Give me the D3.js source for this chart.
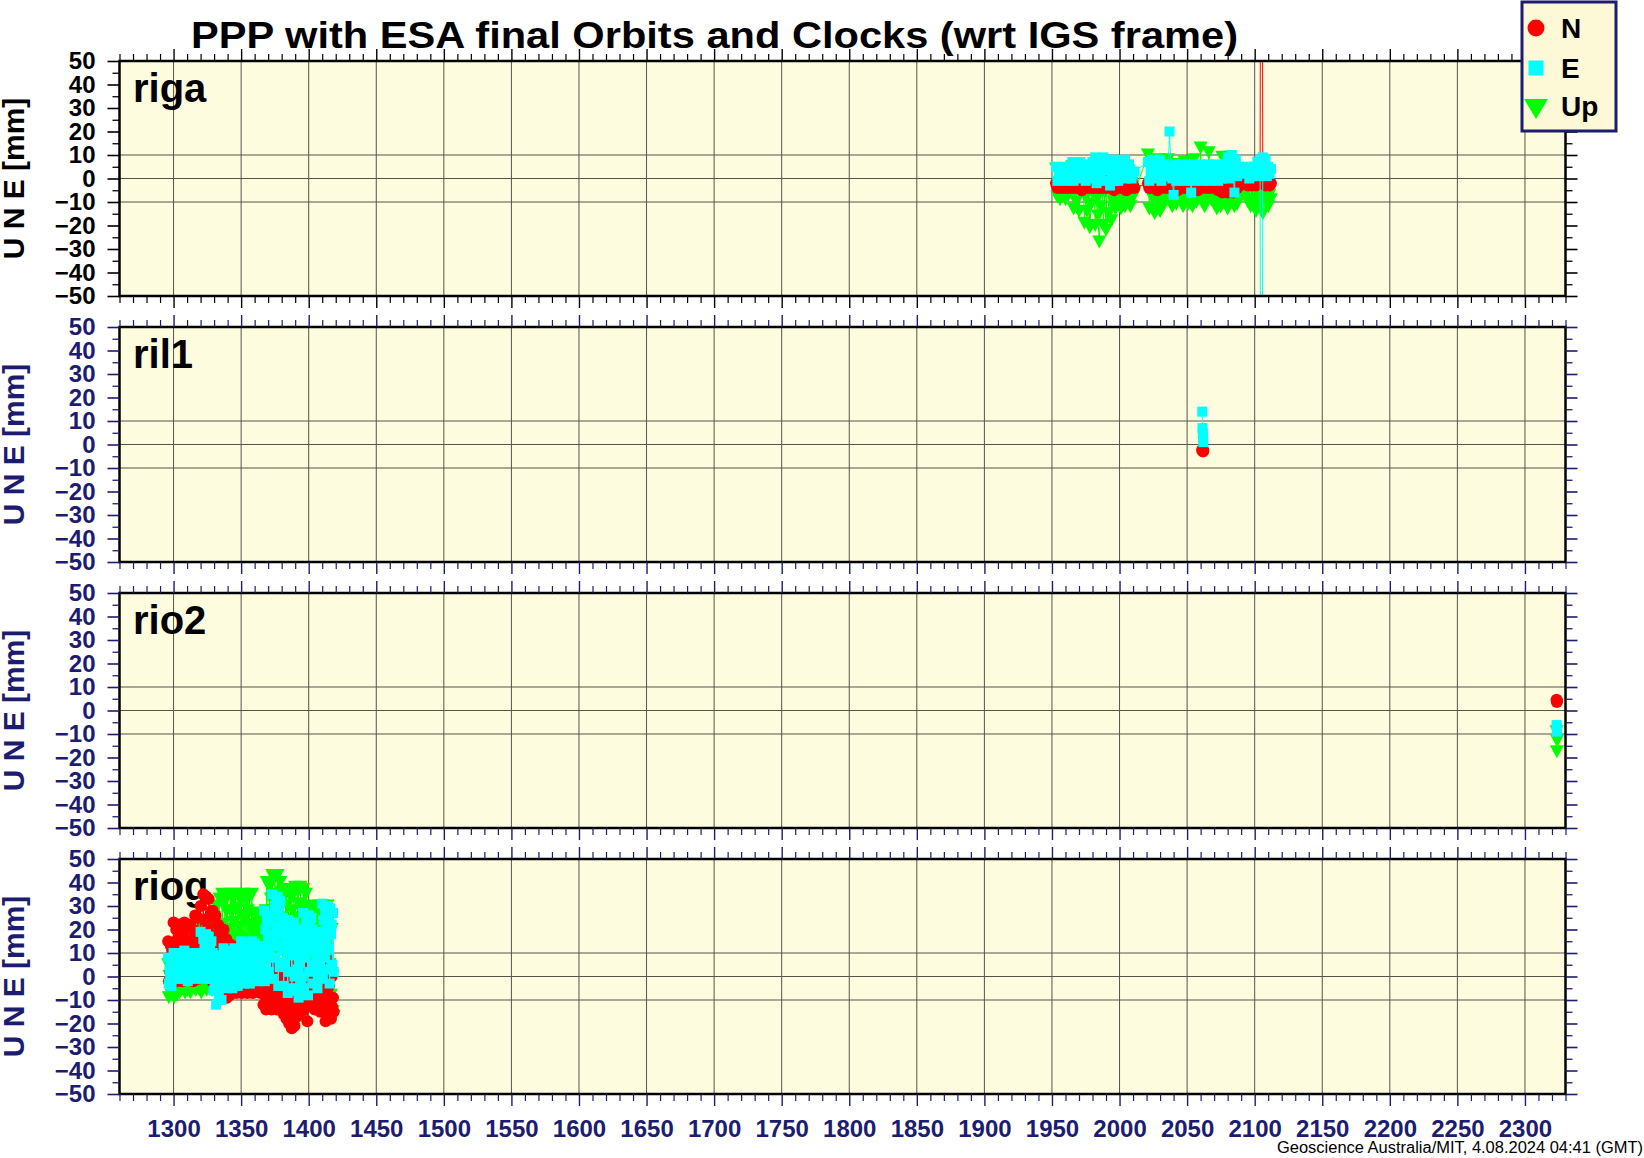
<!DOCTYPE html>
<html>
<head>
<meta charset="utf-8">
<script src="https://cdn.jsdelivr.net/npm/d3@7"></script>
<style>
  body { margin: 0; background: #fff; }
  svg { display: block; }
</style>
</head>
<body>
<div id="chart"></div>
<script>
// ---- data ----
const chartTitle = 'PPP with ESA final Orbits and Clocks (wrt IGS frame)';
const footerText = 'Geoscience Australia/MIT, 4.08.2024 04:41 (GMT)';
const yTitle = 'U N E [mm]';
const stations = ['riga', 'ril1', 'rio2', 'riog'];
const weekTicks = [1300, 1350, 1400, 1450, 1500, 1550, 1600, 1650, 1700, 1750, 1800,
  1850, 1900, 1950, 2000, 2050, 2100, 2150, 2200, 2250, 2300];
const mmTicks = [-50, -40, -30, -20, -10, 0, 10, 20, 30, 40, 50];
const gridMm = [-10, 0, 10];
const legendLabels = ['N', 'E', 'Up'];

// riga (GPS week, mm)
const rigaWeeks = [
  1953, 1954, 1955, 1956, 1957, 1958, 1959, 1960, 1961, 1962, 1963, 1964,
  1965, 1966, 1967, 1968, 1969, 1970, 1971, 1972, 1973, 1974, 1975, 1976, 1977, 1978, 1979, 1980, 1981,
  1982, 1983, 1984, 1985, 1986, 1987, 1988, 1989, 1990, 1991,
  1992, 1993, 1994, 1995, 1996, 1997,
  1998, 1999, 2000, 2001, 2002, 2003, 2004, 2005, 2006, 2007, 2008, 2009, 2010, 2011,
  2021, 2022, 2023, 2024, 2025, 2026, 2027, 2028, 2029, 2030, 2031, 2032, 2033,
  2034, 2035, 2036, 2037, 2038, 2039, 2040,
  2041, 2042, 2043, 2044, 2045, 2046, 2047, 2048, 2049, 2050, 2051, 2052,
  2053,
  2054, 2055, 2056, 2057, 2058, 2059, 2060, 2061, 2062, 2063, 2064, 2065, 2066,
  2067, 2068, 2069, 2070, 2071, 2072, 2073, 2074, 2075, 2076, 2077, 2078, 2079,
  2080, 2081, 2082, 2083, 2084, 2085, 2086, 2087, 2088, 2089,
  2094, 2095, 2096, 2097, 2098, 2099, 2100, 2101, 2102, 2103, 2104,
  2105, 2106, 2107, 2108, 2109, 2110, 2111, 2112];
const rigaN = [
  -2, -4, -1, -3, -4, -2, -3, -4, -1, -2, -4, -3, -2, -4, -1, -3, -4, -2,
  -3, -5, -1, -2, -4, -3, -2, -4, -1, -3, -4, -2, -3, -4, -1, -2, -4, -3,
  -2, -4, -1, -3, -4, -2, -1, -5, -1, -2, -4, -3, -1, -4, 0, -3, -5, -2,
  -1, -4, -1, -3, -4,
  -2, -4, -1, -3, -4, -2, -3, -5, -1, -2, -4, -3, -2, -4, -1, -3, -4, -2,
  -3, -4, -1, -2, -5, -3, -2, -4, -1, -3, -4, -2, -3, -4, -1, -2, -4, -3,
  -2, -5, -1, -3, -4, -2, -3, -4, -1, -2, -4, -3, -2, -4, -1, -3, -5, -2,
  -1, -6, -2, -5, -3, -6, -2, -5, -1, -6, -3, -2, -4, -2, -3,
  -2, -3, -1, -2, -3, -1, -2, -3, -1, -2, 0,
  300, 1, -2, -3, -1, -2, -3, -2];
const rigaE = [
  5, -1, 2, 4, 0, 3, 5, -1, 2, 4, 0, 3,
  7, -1, 3, 6, 1, 4, 7, 0, 3, 5, -1, 4, 6, 1, 3, 7, 0,
  9, -2, 3, 7, 0, 5, 9, -1, 4, 8,
  5, -3, 1, 4, -1, 2,
  8, -1, 3, 6, 1, 4, 8, 0, 3, 6, 4, 0, 2, 3,
  7, -1, 3, 8, 1, 5, 7, 0, 4, 8, -1, 3, 6,
  5, 1, 3, 20, 4, 0, -7,
  6, -1, 3, 5, 0, 4, 6, -1, 2, 5, 0, 3,
  -6,
  6, -1, 3, 5, 0, 4, 6, -1, 2, 5, 0, 3, 6,
  -1, 3, 5, 0, 4, 6, -1, 2, 5, 0, 3, 6, 1,
  9, 0, 4, 10, 2, -6, 8, 1, 5, 3,
  2, 5, 0, 4, 3, 1, 5, 2, 7, 1, 8,
  -300, 9, 3, 8, 1, 5, 2, 4];
const rigaU = [
  4, -8, -2, -9, 1, -5, 3, -9, -3, -7, 2, -6,
  5, -13, -4, -10, 2, -14, -6, -1,
  3, -19, -8, -14, 0, -21, -11, -5, 2, -20, -9, -16,
  -27, -12, 4, -20, -6, -22,
  6, -15, -4, -18, 0, -10, -13,
  4, -11, -3, -13, 0, -7, -12, 2, -9, -4, -12, 1, -8, -6,
  10, -13, -4, -8, 5, -15, -2, -10, 8, -14, -6, 3, -11, -1, -9,
  8, -10, -3, -12, 2, -7, -11, 6, -5, -9, 0, -12,
  7, -8, -2, -11, 4, -6, -12, 8, -4, -10, 1, -8,
  13, -10, -2, -12, 5, -7, 11, -4, -9,
  3, -11, -5, -13, 0, -8, -12, 9, -6, -10, 2, -13, -4, 9, -9, -1, -12, -6, -11, 2, -8,
  -6, -10, 2, -12, -4, -9, -1, -14, -6, -11, -3,
  -8, -15, -5, -10, -2, -12, -7, -9];

// ril1
const ril1Weeks = [2061.2, 2061.4, 2061.6, 2061.8, 2062.0];
const ril1N = [-2.5, -2, -2.5, -3, -2.5];
const ril1E = [14, 7, 5, 3, 1];
const ril1U = [];

// rio2
const rio2Weeks = [2323.4, 2323.6, 2323.8];
const rio2N = [4.6, 3.6, 4.0];
const rio2E = [-6.2, -9, -7.5];
const rio2U = [-9, -17.5, -13];

// riog
const riogWeeks = [
  1296, 1296.5, 1297, 1297.5, 1298, 1298.5, 1299, 1299.5, 1300, 1300.5, 1301, 1301.5, 1302, 1302.5, 1303, 1303.5, 1304, 1304.5, 1305, 1305.5,
  1306, 1306.5, 1307, 1307.5, 1308, 1308.5, 1309, 1309.5, 1310, 1310.5, 1311, 1311.5, 1312, 1312.5, 1313, 1313.5, 1314, 1314.5, 1315, 1315.5,
  1316, 1316.5, 1317, 1317.5, 1318, 1318.5, 1319, 1319.5, 1320, 1320.5, 1321, 1321.5, 1322, 1322.5, 1323, 1323.5, 1324, 1324.5, 1325, 1325.5,
  1326, 1326.5, 1327, 1327.5, 1328, 1328.5, 1329, 1329.5, 1330, 1330.5, 1331, 1331.5, 1332, 1332.5, 1333, 1333.5, 1334, 1334.5, 1335, 1335.5,
  1336, 1336.5, 1337, 1337.5, 1338, 1338.5, 1339, 1339.5, 1340, 1340.5, 1341, 1341.5, 1342, 1342.5, 1343, 1343.5, 1344, 1344.5, 1345, 1345.5,
  1346, 1346.5, 1347, 1347.5, 1348, 1348.5, 1349, 1349.5, 1350, 1350.5, 1351, 1351.5, 1352, 1352.5, 1353, 1353.5, 1354, 1354.5, 1355, 1355.5,
  1356, 1356.5, 1357, 1357.5, 1358, 1358.5, 1359, 1359.5, 1360, 1360.5, 1361, 1361.5, 1362, 1362.5, 1363, 1363.5, 1364, 1364.5, 1365, 1365.5,
  1366, 1366.5, 1367, 1367.5, 1368, 1368.5, 1369, 1369.5, 1370, 1370.5, 1371, 1371.5, 1372, 1372.5, 1373, 1373.5, 1374, 1374.5, 1375, 1375.5,
  1376, 1376.5, 1377, 1377.5, 1378, 1378.5, 1379, 1379.5, 1380, 1380.5, 1381, 1381.5, 1382, 1382.5, 1383, 1383.5, 1384, 1384.5, 1385, 1385.5,
  1386, 1386.5, 1387, 1387.5, 1388, 1388.5, 1389, 1389.5, 1390, 1390.5, 1391, 1391.5, 1392, 1392.5, 1393, 1393.5, 1394, 1394.5, 1395, 1395.5,
  1396, 1396.5, 1397, 1397.5, 1398, 1398.5, 1399, 1399.5, 1400, 1400.5, 1401, 1401.5, 1402, 1402.5, 1403, 1403.5, 1404, 1404.5, 1405, 1405.5,
  1406, 1406.5, 1407, 1407.5, 1408, 1408.5, 1409, 1409.5, 1410, 1410.5, 1411, 1411.5, 1412, 1412.5, 1413, 1413.5, 1414, 1414.5, 1415, 1415.5,
  1416, 1416.5, 1417, 1417.5, 1418, 1418.5];
const riogN = [
  15, -2, 8, 2, 13, -3, 11, 5,
  23, 0, 12, 4, 20, -2, 16, 8, 22, -1, 13, 3, 19, -2, 17, 7,
  23, 1, 11, 5, 21, -1, 15, 9, 22, 0, 12, 4, 20, -2, 16, 8,
  26, 1, 14, 5, 25, -1, 18, 10,
  30, 2, 16, 6, 35, 0, 24, 10, 34, 3, 20, 8, 33, 1, 26, 12, 28, 5,
  28, -3, 12, 2, 26, -5, 18, 6, 22, -4, 10, 0, 20, -5, 14, 4,
  20, -6, 6, -2, 16, -9, 10, 2, 14, -8, 4, -3, 13, 0,
  13, -5, 4, -2, 12, -7, 8, 0, 5, -6, 1, -3, 4, -7, 2, -1,
  5, -5, 0, -4, 3, -7, 1, -2, 4, -6, 2, -3, 5, -7, 0, -1,
  4, -5, 1, -4, 5, -6, 2, -2, 3, -7, 0, 4,
  5, -12, -3, -8, 3, -14, -1, -6, 4, -13, -4, -9, 2, -14, 0,
  -7, 5, -11, -2, -10, 3, -14, -5, -8, 4, -12, -1, -6, 2, -13,
  5, -16, -5, -12, 3, -18, -2, -9, 4, -20, -7, -14, 2, -22, -4, -11, 5, -21, -8, -15, 3, -17,
  5, -13, -3, -8, 4, -15, -1, -10, 3, -14, -5, -9, 2, -12, -19, -6,
  4, -10, -2, -7, 3, -12, 0, -5, 4, -14, -3, -8, 2, -13, -1, -6, 3, -15, -4, -9,
  8, -15, -2, -10, 6, -19, 2, -7, 7, -17, -4, -12, 5, -18, 0, -13, -9, -15];
const riogE = [
  8, -3, 3, -1, 6, -4, 4, 1,
  10, 0, 5, 2, 8, -1, 7, 3, 9, 1, 6, 2, 10, -1, 6, 4,
  11, 0, 5, 3, 8, -2, 7, 2, 10, 1, 4, 2, 9, 0, 6, 3,
  10, -1, 5, 3, 8, 0, 7, 4,
  19, 1, 10, 4, 16, -1, 13, 7, 18, 0, 11, 5, 17, -1, 12, 6, 15, 3,
  10, -6, 2, -3, 8, -12, 5, -1, 9, -8, 3, -4, 7, -10, 6, 0,
  12, -3, 4, -1, 10, -5, 7, 2, 11, -4, 5, 0, 9, -5, 8, 1, 12, -3, 3, -1, 10, -4, 6, 2, 11, 0,
  15, -1, 7, 2, 12, -3, 10, 4, 14, -2, 8, 1, 13, -3, 9, 5, 15, 0, 6, 3,
  14, 0, 6, 2, 12, -2, 9, 4, 13, -1, 7, 1, 11, 5,
  28, -2, 20, 6, 24, 12, 16, 2, 26, 9, 18, 14,
  35, -1, 26, 8, 30, 17, 21, 13, 34, -4, 28, 4, 32, 19, 24, 11,
  25, -4, 18, 6, 22, 12, 15, -7, 24, 2, 20, 9, 21, -5, 16, 13, 23, 0,
  20, -6, 14, 3, 17, -9, 10, 6, 19, -2, 12, 0,
  27, -5, 20, 8, 24, 14, 17, -8, 26, 2, 22, 11, 25, 5,
  20, -3, 14, 5, 17, 9, 12, -5, 19, 1, 15, 7, 18, 3,
  31, -1, 24, 8, 28, 15, 20, 3, 30, 12, 26, -3, 29, 18, 22, 5, 27, 2];
const riogU = [
  5, -9, 0, -5, 3, -8, 2, -3,
  10, -9, 2, -4, 8, -8, 5, -1, 9, -7, 3, -3,
  20, -5, 8, 0, 17, -7, 12, 3, 19, -6, 9, 1, 16, -7, 13, 4,
  20, -4, 7, 0, 18, -6, 11, 2, 19, -5, 10, 1, 17, -7, 12, 5,
  20, -3, 8, 0, 18, -6, 13, 3, 22, -4, 9, 2, 20, -6, 14, 5,
  25, -2, 12, 4, 30, 0, 18, 8, 33, 3, 22, 10,
  35, 8, 22, 12, 32, 5, 28, 16, 34, 7, 20, 11, 35, 6, 27, 15,
  33, 9, 23, 13, 35, 5, 29, 17, 34, 8, 21, 12, 33, 6, 26, 16,
  35, 7, 24, 10, 32, 5, 28, 14, 34, 9, 22, 13, 35, 6, 27, 18,
  26, 6, 16, 10, 24, 5, 20, 13, 25, 7, 15, 9, 23, 6, 19, 12, 28, 10,
  40, 12, 26, 18, 38, 10, 33, 22, 43, 14, 28, 19, 42, 11, 35, 24, 43, 13, 30, 20, 40, 12, 36, 25,
  37, 10, 23, 15, 35, 8, 30, 19, 36, 11, 24, 14, 34, 9, 28, 18, 37, 12,
  38, 10, 24, 15, 36, 8, 31, 19, 38, 12, 25, 14, 37, 9, 29, 18, 35, 11, 27, 20,
  30, 7, 18, 11, 28, 5, 24, 14, 29, 8, 17, 10, 27, 6, 22, 13, 30, 9, 20, 12,
  30, 2, 16, 8, 28, -5, 22, 12, 30, -2, 18, 5, 26, -8, 20, 0, -15, -17];

const panels = [
  { name: stations[0], weeks: rigaWeeks, N: rigaN, E: rigaE, U: rigaU },
  { name: stations[1], weeks: ril1Weeks, N: ril1N, E: ril1E, U: ril1U },
  { name: stations[2], weeks: rio2Weeks, N: rio2N, E: rio2E, U: rio2U },
  { name: stations[3], weeks: riogWeeks, N: riogN, E: riogE, U: riogU }
];

// ---- chart ----
const FONT = '"Liberation Sans", Arial, Helvetica, sans-serif';

class StackedPanels {
  constructor (options) {
    this.width = options.width;
    this.height = options.height;
    this.elQuery = options.elQuery;
    this.panels = options.panels;
    this.panelTops = [61, 327, 593, 859];
    this.panelHeight = 235;
    this.left = 119.5;
    this.right = 1565.5;
    this.navy = '#1c1c70';
    this.plotFill = '#fefcdf';

    // drawn back to front: Up, N, E
    this.series = [
      { key: 'U', color: '#00ff00', shape: 'triangle' },
      { key: 'N', color: '#ff0000', shape: 'circle' },
      { key: 'E', color: '#00ffff', shape: 'square' }
    ];

    this.xScale = d3.scaleLinear().domain([1260, 2330]).range([this.left, this.right]);
    this.minorWeeks = d3.range(1260, 2331, 10).filter(w => w % 50 !== 0);
    this.minorMm = d3.range(-45, 50, 10);

    this.svgElement = this.createSvgElement();
    this.panels.forEach((p, i) => this.drawPanel(p, i));
    this.drawTitle();
    this.drawLegend();
  }

  createSvgElement () {
    return d3
      .select(this.elQuery)
      .append('svg')
      .attr('width', this.width)
      .attr('height', this.height)
      .style('background', '#fff');
  }

  styleAxis (g, ink, width) {
    g.select('.domain').remove();
    g.selectAll('line').attr('stroke', ink).attr('stroke-width', width);
    g.selectAll('text')
      .attr('fill', ink)
      .attr('font-family', FONT)
      .attr('font-size', 24)
      .attr('font-weight', 'bold');
    g.attr('font-family', null).attr('font-size', null);
  }

  addAxis (g, axis, transform, ink, width) {
    g.append('g')
      .attr('transform', transform)
      .call(axis)
      .call(a => this.styleAxis(a, ink, width));
  }

  drawPanel (panel, i) {
    ['N', 'E', 'U'].forEach(k => {
      if (panel[k].length && panel[k].length !== panel.weeks.length) {
        throw new Error(`${panel.name} ${k}: ${panel[k].length} values for ${panel.weeks.length} weeks`);
      }
    });

    const top = this.panelTops[i];
    const bottom = top + this.panelHeight;
    const ink = i === 0 ? '#000' : this.navy;
    const x = this.xScale;
    const y = d3.scaleLinear().domain([-50, 50]).range([bottom, top]);
    const g = this.svgElement.append('g').attr('class', 'panel');

    g.append('rect')
      .attr('x', this.left).attr('y', top)
      .attr('width', this.right - this.left).attr('height', this.panelHeight)
      .attr('fill', this.plotFill);

    g.selectAll('line.vgrid')
      .data(weekTicks)
      .enter()
        .append('line')
        .attr('class', 'vgrid')
        .attr('x1', d => x(d)).attr('x2', d => x(d))
        .attr('y1', top).attr('y2', bottom)
        .attr('stroke', '#55554a').attr('stroke-width', 1);

    g.selectAll('line.hgrid')
      .data(gridMm)
      .enter()
        .append('line')
        .attr('class', 'hgrid')
        .attr('x1', this.left).attr('x2', this.right)
        .attr('y1', d => y(d)).attr('y2', d => y(d))
        .attr('stroke', '#55554a').attr('stroke-width', 1);

    // station label (under the marks)
    g.append('text')
      .attr('x', 133).attr('y', top + 41)
      .attr('font-family', FONT).attr('font-size', 40).attr('font-weight', 'bold')
      .attr('fill', '#000')
      .text(panel.name);

    const clipId = 'clip' + i;
    this.svgElement.append('clipPath').attr('id', clipId)
      .append('rect')
      .attr('x', this.left).attr('y', top)
      .attr('width', this.right - this.left).attr('height', this.panelHeight);

    const plot = g.append('g').attr('clip-path', `url(#${clipId})`);
    this.series.forEach(s => this.drawSeries(plot, panel.weeks, panel[s.key], s, y));

    // frame
    g.append('rect')
      .attr('x', this.left).attr('y', top)
      .attr('width', this.right - this.left).attr('height', this.panelHeight)
      .attr('fill', 'none').attr('stroke', '#000').attr('stroke-width', 2.5);

    // axes
    const fmt = d => (d < 0 ? '\u2212' + Math.abs(d) : String(d));
    this.addAxis(g, d3.axisLeft(y).tickValues(mmTicks).tickSize(12).tickPadding(12).tickFormat(fmt),
      `translate(${this.left},0)`, ink, 1.6);
    this.addAxis(g, d3.axisLeft(y).tickValues(this.minorMm).tickSize(7).tickFormat(''),
      `translate(${this.left},0)`, ink, 1.3);
    this.addAxis(g, d3.axisRight(y).tickValues(mmTicks).tickSize(12).tickFormat(''),
      `translate(${this.right},0)`, ink, 1.6);
    this.addAxis(g, d3.axisRight(y).tickValues(this.minorMm).tickSize(7).tickFormat(''),
      `translate(${this.right},0)`, ink, 1.3);
    this.addAxis(g, d3.axisTop(x).tickValues(weekTicks).tickSize(12).tickFormat(''),
      `translate(0,${top})`, ink, 1.4);
    this.addAxis(g, d3.axisTop(x).tickValues(this.minorWeeks).tickSize(7).tickFormat(''),
      `translate(0,${top})`, ink, 1.2);
    const last = i === this.panels.length - 1;
    this.addAxis(g, d3.axisBottom(x).tickValues(weekTicks).tickSize(12).tickPadding(14)
      .tickFormat(last ? d => String(d) : ''),
      `translate(0,${bottom})`, ink, 1.4);
    this.addAxis(g, d3.axisBottom(x).tickValues(this.minorWeeks).tickSize(7).tickFormat(''),
      `translate(0,${bottom})`, ink, 1.2);

    // y title
    g.append('text')
      .attr('transform', `translate(24,${(top + bottom) / 2}) rotate(-90)`)
      .attr('text-anchor', 'middle')
      .attr('font-family', FONT).attr('font-size', 30).attr('font-weight', 'bold')
      .attr('fill', ink)
      .text(yTitle);
  }

  drawSeries (plot, weeks, values, style, y) {
    if (!values || !values.length) return;
    const pts = weeks.map((w, k) => [this.xScale(w), y(values[k])]);

    plot.append('path')
      .attr('d', d3.line()(pts))
      .attr('fill', 'none')
      .attr('stroke', style.color)
      .attr('stroke-width', 1);

    const marks = plot.append('g').selectAll('.mark').data(pts).enter();
    if (style.shape === 'circle') {
      marks.append('circle')
        .attr('cx', d => d[0]).attr('cy', d => d[1]).attr('r', 6)
        .attr('fill', style.color);
    } else if (style.shape === 'square') {
      marks.append('rect')
        .attr('x', d => d[0] - 5).attr('y', d => d[1] - 5)
        .attr('width', 10).attr('height', 10)
        .attr('fill', style.color);
    } else {
      marks.append('path')
        .attr('d', d => `M${d[0] - 7},${d[1] - 6.5}L${d[0] + 7},${d[1] - 6.5}L${d[0]},${d[1] + 6.5}Z`)
        .attr('fill', style.color);
    }
  }

  drawTitle () {
    this.svgElement.append('text')
      .attr('x', 191).attr('y', 48)
      .attr('font-family', FONT).attr('font-size', 37).attr('font-weight', 'bold')
      .attr('fill', '#000')
      .attr('textLength', 1047).attr('lengthAdjust', 'spacingAndGlyphs')
      .text(chartTitle);

    this.svgElement.append('text')
      .attr('x', 1643).attr('y', 1153)
      .attr('text-anchor', 'end')
      .attr('font-family', FONT).attr('font-size', 16)
      .attr('fill', '#000')
      .attr('textLength', 366).attr('lengthAdjust', 'spacingAndGlyphs')
      .text(footerText);
  }

  drawLegend () {
    const lg = this.svgElement.append('g').attr('class', 'legend');
    lg.append('rect')
      .attr('x', 1522).attr('y', 2).attr('width', 94).attr('height', 129)
      .attr('fill', '#fdf9d6').attr('stroke', this.navy).attr('stroke-width', 3);

    const cx = 1536;
    lg.append('circle').attr('cx', cx).attr('cy', 28).attr('r', 8.5).attr('fill', '#ff0000');
    lg.append('rect').attr('x', cx - 7.5).attr('y', 60.5).attr('width', 15).attr('height', 15).attr('fill', '#00ffff');
    lg.append('path').attr('d', `M${cx - 12},99L${cx + 12},99L${cx},119Z`).attr('fill', '#00ff00');

    const baselines = [38, 78, 116];
    lg.selectAll('text')
      .data(legendLabels)
      .enter()
        .append('text')
        .attr('x', 1561)
        .attr('y', (d, k) => baselines[k])
        .attr('font-family', FONT).attr('font-size', 28).attr('font-weight', 'bold')
        .attr('fill', '#000')
        .text(d => d);
  }
}

new StackedPanels({
  width: 1644,
  height: 1158,
  elQuery: '#chart',
  panels: panels
});
</script>
</body>
</html>
